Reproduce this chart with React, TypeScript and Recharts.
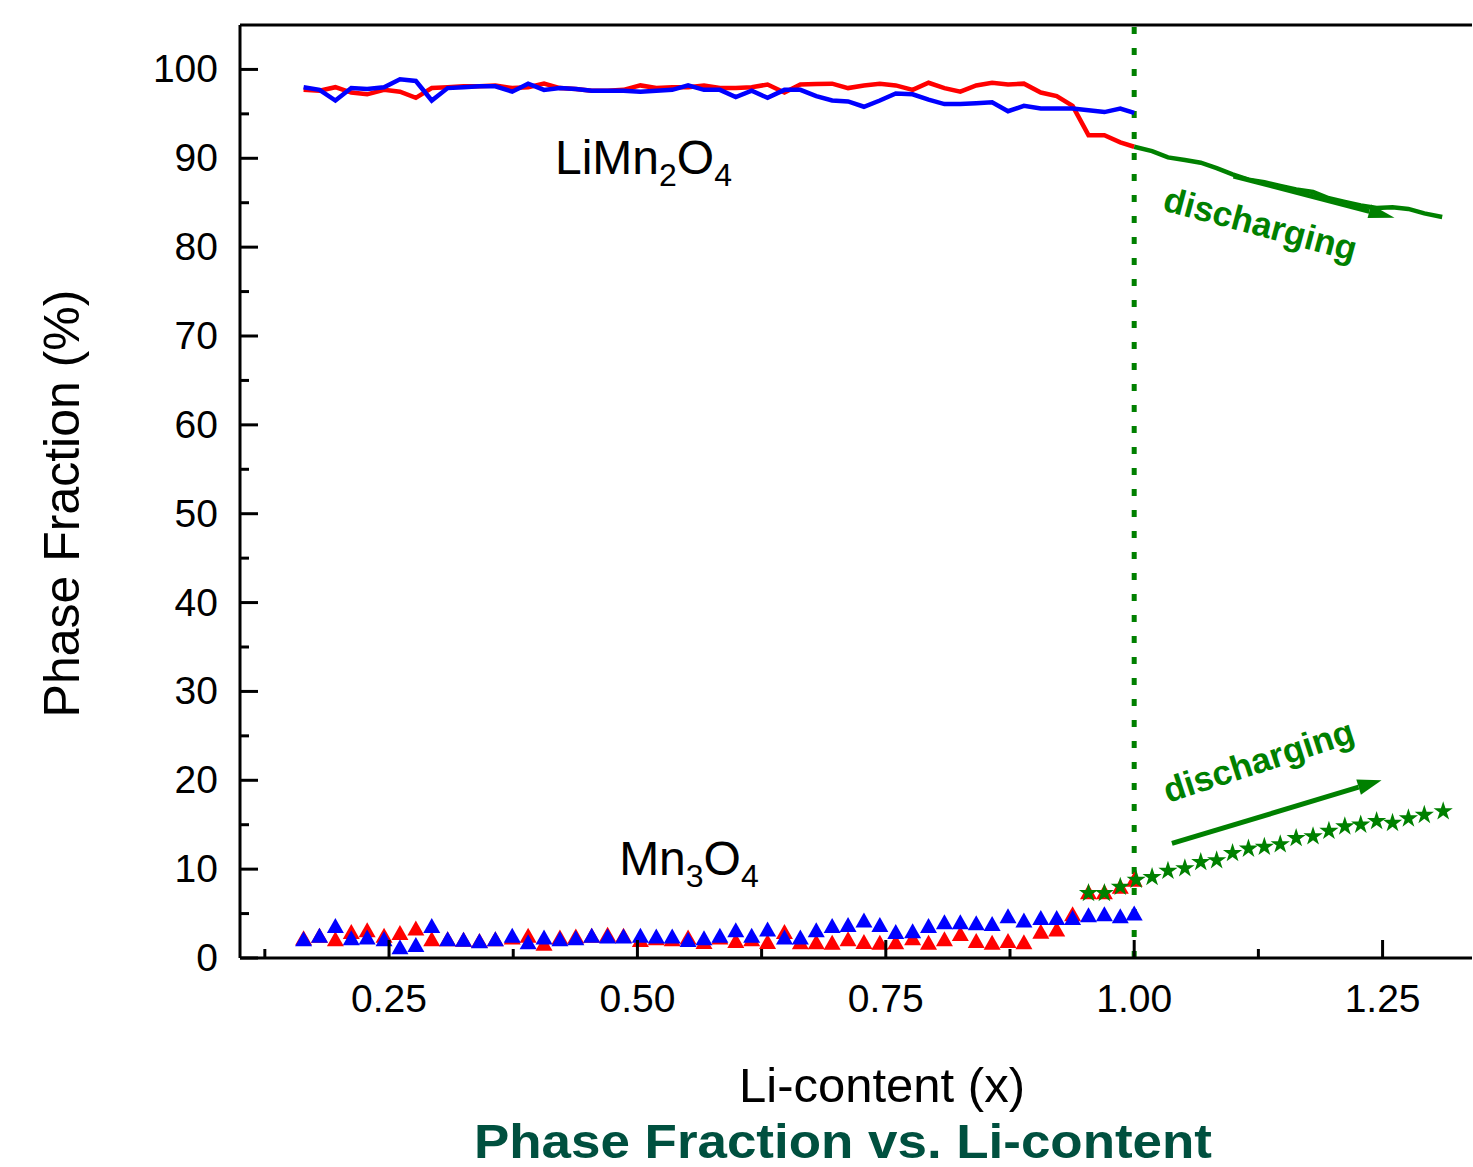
import React from 'react';
import {
  ComposedChart, Line, Scatter, XAxis, YAxis, ReferenceLine, ReferenceDot, Symbols
} from 'recharts';

const FONT = '"Liberation Sans", Arial, Helvetica, sans-serif';
const GREEN = '#008000';

// Li-content grid shared by both samples
const liContent = [
  0.164, 0.180, 0.196, 0.212, 0.228, 0.245, 0.261, 0.277, 0.293, 0.309,
  0.325, 0.341, 0.357, 0.374, 0.390, 0.406, 0.422, 0.438, 0.454, 0.470,
  0.486, 0.503, 0.519, 0.535, 0.551, 0.567, 0.583, 0.599, 0.615, 0.631,
  0.648, 0.664, 0.680, 0.696, 0.712, 0.728, 0.744, 0.760, 0.777, 0.793,
  0.809, 0.825, 0.841, 0.857, 0.873, 0.889, 0.906, 0.922, 0.938, 0.954,
  0.970, 0.986, 1.000,
];

// LiMn2O4 phase fraction
const limnRed = [
  97.7, 97.6, 98.0, 97.4, 97.2, 97.7, 97.5, 96.8, 97.9, 98.0,
  98.1, 98.1, 98.2, 97.9, 98.0, 98.4, 97.9, 97.8, 97.6, 97.6,
  97.7, 98.2, 97.9, 98.0, 98.0, 98.2, 97.9, 97.9, 98.0, 98.3,
  97.4, 98.3, 98.35, 98.4, 97.9, 98.2, 98.4, 98.2, 97.7, 98.5,
  97.9, 97.5, 98.2, 98.5, 98.3, 98.4, 97.4, 97.0, 95.9, 92.6,
  92.6, 91.8, 91.3,
];
const limnBlue = [
  98.0, 97.7, 96.5, 97.9, 97.8, 98.0, 98.9, 98.7, 96.5, 97.9,
  98.0, 98.1, 98.1, 97.5, 98.4, 97.7, 97.9, 97.8, 97.6, 97.6,
  97.6, 97.5, 97.6, 97.7, 98.2, 97.7, 97.7, 96.9, 97.6, 96.8,
  97.7, 97.7, 97.0, 96.5, 96.4, 95.8, 96.5, 97.3, 97.2, 96.6,
  96.1, 96.1, 96.2, 96.3, 95.3, 95.9, 95.6, 95.6, 95.6, 95.4,
  95.2, 95.6, 95.1,
];

// Mn3O4 phase fraction
const mn3o4Red = [
  2.1, 2.4, 2.0, 2.8, 3.0, 2.4, 2.7, 3.2, 2.0, 2.0,
  1.95, 1.8, 2.0, 2.2, 2.4, 1.5, 2.2, 2.3, 2.4, 2.5,
  2.4, 1.9, 2.1, 2.0, 2.2, 1.7, 2.2, 1.8, 2.0, 1.7,
  2.8, 1.65, 1.65, 1.6, 2.0, 1.7, 1.6, 1.65, 2.1, 1.6,
  2.0, 2.6, 1.8, 1.6, 1.8, 1.65, 2.85, 3.1, 4.8, 7.3,
  7.3, 7.9, 8.7,
];
const mn3o4Blue = [
  2.0, 2.4, 3.5, 2.1, 2.2, 2.0, 1.1, 1.35, 3.5, 2.0,
  1.95, 1.77, 2.0, 2.4, 1.65, 2.2, 2.0, 2.1, 2.4, 2.3,
  2.3, 2.4, 2.3, 2.3, 1.9, 2.1, 2.4, 3.0, 2.4, 3.1,
  2.2, 2.2, 3.0, 3.5, 3.6, 4.1, 3.6, 2.8, 2.9, 3.5,
  3.9, 3.9, 3.8, 3.7, 4.6, 4.1, 4.4, 4.4, 4.4, 4.7,
  4.8, 4.6, 4.9,
];

// discharging branch
const dischargeX = [
  1.000, 1.018, 1.034, 1.051, 1.067, 1.083, 1.099, 1.115, 1.131, 1.147,
  1.163, 1.180, 1.196, 1.212, 1.228, 1.244, 1.260, 1.276, 1.292, 1.310,
];
const dischargeLimn = [
  91.3, 90.8, 90.1, 89.8, 89.5, 88.9, 88.2, 87.6, 87.3, 86.9,
  86.5, 86.2, 85.5, 85.1, 84.7, 84.4, 84.5, 84.3, 83.8, 83.4,
];
const starX = [
  0.954, 0.970, 0.986, 1.002, 1.018, 1.034, 1.051, 1.067, 1.083, 1.099,
  1.115, 1.131, 1.147, 1.163, 1.180, 1.196, 1.212, 1.228, 1.244, 1.260,
  1.276, 1.292, 1.311,
];
const starMn = [
  7.3, 7.3, 8.0, 8.8, 9.1, 9.8, 10.1, 10.8, 11.0, 11.8,
  12.3, 12.5, 12.8, 13.5, 13.7, 14.3, 14.8, 15.0, 15.4, 15.2,
  15.7, 16.1, 16.5,
];

const yTicks = [0, 5, 10, 15, 20, 25, 30, 35, 40, 45, 50, 55, 60, 65, 70, 75, 80, 85, 90, 95, 100];
const xTicks = [0.125, 0.25, 0.375, 0.5, 0.625, 0.75, 0.875, 1.0, 1.125, 1.25];

// annotation arrows (data coords)
const arrowUp = [{ x: 1.038, y: 12.9 }, { x: 1.249, y: 20.0 }];
const arrowDown = [{ x: 1.10, y: 88.0 }, { x: 1.262, y: 83.3 }];

const zip = (xs: number[], ys: number[]) => xs.map((x, i) => ({ x, y: ys[i] }));

const YTick = (props: any) => {
  const { x, y, payload } = props;
  const v = payload.value;
  const major = v % 10 === 0;
  const ax = x + 22;
  return (
    <g>
      <line x1={ax} x2={ax + (major ? 18 : 9)} y1={y} y2={y} stroke="#000" strokeWidth={3} />
      {major && (
        <text x={x} y={y + 13} textAnchor="end" fontSize={39} fontFamily={FONT} fill="#000">{v}</text>
      )}
    </g>
  );
};

const XTick = (props: any) => {
  const { x, y, payload } = props;
  const v = payload.value;
  const major = Math.abs(v * 4 - Math.round(v * 4)) < 1e-6;
  return (
    <g>
      <line x1={x} x2={x} y1={y} y2={y - (major ? 18 : 9)} stroke="#000" strokeWidth={3} />
      {major && (
        <text x={x} y={y + 54} textAnchor="middle" fontSize={39} fontFamily={FONT} fill="#000">{v.toFixed(2)}</text>
      )}
    </g>
  );
};

const Triangle = (color: string) => (p: any) => (
  <polygon
    points={`${p.cx},${p.cy - 9} ${p.cx + 8.5},${p.cy + 6} ${p.cx - 8.5},${p.cy + 6}`}
    fill={color}
  />
);

const Star = (p: any) => <Symbols cx={p.cx} cy={p.cy} type="star" size={115} fill={GREEN} />;

const arrowShape = (head: number, width: number) => (p: any) => {
  const { x1, y1, x2, y2 } = p;
  const ang = Math.atan2(y2 - y1, x2 - x1);
  const bx = x2 - head * Math.cos(ang);
  const by = y2 - head * Math.sin(ang);
  const nx = (-Math.sin(ang) * width) / 2;
  const ny = (Math.cos(ang) * width) / 2;
  return (
    <g>
      <line x1={x1} y1={y1} x2={bx} y2={by} stroke={GREEN} strokeWidth={5} />
      <polygon points={`${x2},${y2} ${bx + nx},${by + ny} ${bx - nx},${by - ny}`} fill={GREEN} />
    </g>
  );
};

const YTitle = (props: any) => {
  const vb = props.viewBox;
  const bx = vb.x + 79;
  const cy = vb.y + vb.height / 2 + 12;
  return (
    <text x={bx} y={cy} transform={`rotate(-90 ${bx} ${cy})`} textAnchor="middle"
      fontSize={50} fontFamily={FONT} fill="#000">Phase Fraction (%)</text>
  );
};

const XTitle = (props: any) => {
  const vb = props.viewBox;
  return (
    <g>
      <text x={vb.x + 642} y={vb.y + 144} textAnchor="middle" fontSize={49} fontFamily={FONT} fill="#000">
        Li-content (x)
      </text>
      <text x={vb.x + 603} y={vb.y + 200} textAnchor="middle" fontSize={49} fontWeight="bold"
        fontFamily={FONT} fill="#00503f" textLength={738} lengthAdjust="spacingAndGlyphs">
        Phase Fraction vs. Li-content
      </text>
    </g>
  );
};

const phaseLabel = (main1: string, sub1: string, main2: string, sub2: string) => (p: any) => (
  <text x={p.cx} y={p.cy} fontSize={48} fontFamily={FONT} fill="#000">
    {main1}
    <tspan dy={12} fontSize={32}>{sub1}</tspan>
    <tspan dy={-12}>{main2}</tspan>
    <tspan dy={12} fontSize={32}>{sub2}</tspan>
  </text>
);

const discharging = (angle: number) => (p: any) => (
  <text x={p.cx} y={p.cy} transform={`rotate(${angle} ${p.cx} ${p.cy})`} textAnchor="middle"
    fontSize={35} fontWeight="bold" fontFamily={FONT} fill={GREEN}>discharging</text>
);

export default function App() {
  return (
    <div>
      <style>{'body{margin:0;overflow:hidden}'}</style>
      <ComposedChart width={1473} height={1167} margin={{ top: 25, right: 1, bottom: 0, left: 0 }}>
        <XAxis type="number" dataKey="x" domain={[0.1, 1.34]} ticks={xTicks} interval={0}
          allowDataOverflow height={209} tickSize={0} tickMargin={0} tickLine={false}
          axisLine={{ stroke: '#000', strokeWidth: 3 }} tick={XTick} label={XTitle} />
        <YAxis type="number" dataKey="y" domain={[0, 105]} ticks={yTicks} interval={0}
          allowDataOverflow width={240} tickSize={0} tickMargin={22} tickLine={false}
          axisLine={{ stroke: '#000', strokeWidth: 3 }} tick={YTick} label={YTitle} />
        <ReferenceLine y={105} stroke="#000" strokeWidth={3} />
        <ReferenceLine x={1.0} stroke={GREEN} strokeWidth={5} strokeDasharray="7 14" />
        <Line data={zip(liContent, limnRed)} dataKey="y" type="linear" stroke="#ff0000"
          strokeWidth={4.5} dot={false} isAnimationActive={false} />
        <Line data={zip(liContent, limnBlue)} dataKey="y" type="linear" stroke="#0000ff"
          strokeWidth={4.5} dot={false} isAnimationActive={false} />
        <Line data={zip(dischargeX, dischargeLimn)} dataKey="y" type="linear" stroke={GREEN}
          strokeWidth={4.5} dot={false} isAnimationActive={false} />
        <Scatter data={zip(liContent, mn3o4Red)} dataKey="y" shape={Triangle('#ff0000')} isAnimationActive={false} />
        <Scatter data={zip(liContent, mn3o4Blue)} dataKey="y" shape={Triangle('#0000ff')} isAnimationActive={false} />
        <Scatter data={zip(starX, starMn)} dataKey="y" shape={Star} fill={GREEN} isAnimationActive={false} />
        <ReferenceLine segment={arrowUp} ifOverflow="visible" shape={arrowShape(24, 16)} />
        <ReferenceLine segment={arrowDown} ifOverflow="visible" shape={arrowShape(26, 14)} />
        <ReferenceDot x={0.417} y={88.2} r={1} ifOverflow="visible" shape={phaseLabel('LiMn', '2', 'O', '4')} />
        <ReferenceDot x={0.4816} y={9.35} r={1} ifOverflow="visible" shape={phaseLabel('Mn', '3', 'O', '4')} />
        <ReferenceDot x={1.124} y={81.3} r={1} ifOverflow="visible" shape={discharging(15)} />
        <ReferenceDot x={1.129} y={20.9} r={1} ifOverflow="visible" shape={discharging(-18)} />
      </ComposedChart>
    </div>
  );
}
